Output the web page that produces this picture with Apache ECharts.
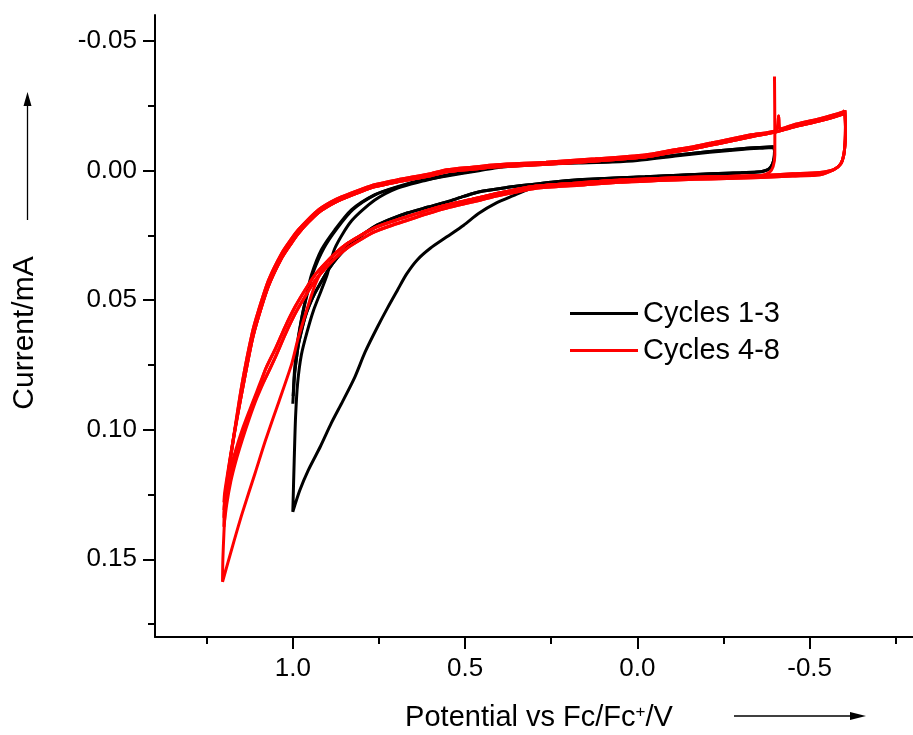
<!DOCTYPE html>
<html>
<head>
<meta charset="utf-8">
<script src="https://cdn.jsdelivr.net/npm/echarts@6/dist/echarts.min.js"></script>
<style>
html,body{margin:0;padding:0;background:#fff;}
#chart{width:913px;height:735px;}
</style>
</head>
<body>
<div id="chart"></div>
<script>
// ---------- axis ticks ----------
const xMajorTicks = [1.0, 0.5, 0.0, -0.5];
const xMinorTicks = [1.25, 0.75, 0.25, -0.25, -0.75];
const yMajorTicks = [-0.05, 0.00, 0.05, 0.10, 0.15];
const yMinorTicks = [-0.025, 0.025, 0.075, 0.125, 0.175];
const seriesNames = ['Cycles 1-3', 'Cycles 4-8'];

// ---------- black cycles 1-3 (potential V, current mA) ----------
const blackRightTurn = [[-0.396,-0.0092],[-0.398,-0.0075],[-0.397,-0.0050],[-0.392,-0.0025],[-0.382,-0.0006],[-0.365,0.0003]];
const blackLower = [[-0.347,0.0006],[-0.30,0.0009],[-0.214,0.0013],[-0.12,0.0018],[-0.022,0.0024],[0.08,0.0030],[0.170,0.0036],[0.25,0.0045],[0.314,0.0055],[0.38,0.0066],[0.458,0.0082],[0.504,0.0100],[0.553,0.0121],[0.61,0.0142],[0.668,0.0164],[0.72,0.0190],[0.763,0.0216],[0.80,0.0250],[0.840,0.0293],[0.87,0.0335],[0.897,0.0383],[0.92,0.0435],[0.936,0.0473],[0.952,0.0520],[0.964,0.0564],[0.975,0.0620],[0.984,0.0673],[0.991,0.0740]];
const black1Start = [[-0.30,0.0010],[-0.214,0.0014],[-0.12,0.0019],[-0.022,0.0025],[0.08,0.0031],[0.170,0.0038],[0.25,0.0050]];
const black1Forward = [[0.314,0.0072],[0.36,0.0097],[0.409,0.0125],[0.46,0.0165],[0.504,0.0211],[0.553,0.0256],[0.601,0.0300],[0.639,0.0345],[0.67,0.0400],[0.696,0.0461],[0.725,0.0530],[0.754,0.0603],[0.79,0.0700],[0.820,0.0797],[0.855,0.0890],[0.888,0.0974],[0.92,0.1065],[0.955,0.1156],[0.98,0.1235],[1.0,0.1317]];
const black1Reverse = [[0.996,0.1120],[0.992,0.0950],[0.986,0.0820],[0.975,0.0710],[0.958,0.0620],[0.94,0.0540],[0.917,0.0461],[0.90,0.0400],[0.878,0.0300],[0.83,0.0195],[0.763,0.0115],[0.696,0.0068],[0.62,0.0040]];
const black2Vertex = [[0.995,0.0789],[1.0,0.0900]];
const black2Reverse = [[0.996,0.0810],[0.988,0.0692],[0.975,0.0576],[0.960,0.0480],[0.946,0.0403],[0.917,0.0306],[0.878,0.0229],[0.830,0.0152],[0.763,0.0094],[0.696,0.0062],[0.62,0.0035]];
const black3Vertex = [[0.996,0.0795],[0.999,0.0870]];
const black3Reverse = [[0.995,0.0770],[0.986,0.0660],[0.972,0.0555],[0.956,0.0465],[0.940,0.0390],[0.910,0.0300],[0.872,0.0224],[0.825,0.0150],[0.760,0.0093],[0.696,0.0064],[0.62,0.0037]];
const blackUpper = [[0.553,0.0018],[0.46,-0.0002],[0.409,-0.0014],[0.34,-0.0022],[0.265,-0.0028],[0.17,-0.0032],[0.073,-0.0036],[0.0,-0.0042],[-0.117,-0.0060],[-0.21,-0.0073],[-0.31,-0.0085],[-0.37,-0.0090],[-0.396,-0.0092]];
const blackUpperB = [[0.553,0.0021],[0.46,0.0001],[0.409,-0.0011],[0.34,-0.0019],[0.265,-0.0025],[0.17,-0.0029],[0.073,-0.0033],[0.0,-0.0039],[-0.117,-0.0057],[-0.21,-0.0070],[-0.31,-0.0082],[-0.37,-0.0087],[-0.394,-0.0089]];

// ---------- red cycles 4-8 ----------
const redStart = [[-0.398,-0.0363],[-0.399,-0.0150],[-0.399,-0.0060],[-0.394,-0.0015],[-0.383,0.0008],[-0.358,0.0019]];
const redRightTurn = [[-0.602,-0.0232],[-0.604,-0.0170],[-0.603,-0.0110],[-0.599,-0.0060],[-0.590,-0.0025],[-0.570,-0.0003]];
const redLowerA = [[-0.530,0.0008],[-0.45,0.0013],[-0.358,0.0019],[-0.26,0.0023],[-0.166,0.0026],[-0.06,0.0031],[0.05,0.0037],[0.17,0.0048],[0.294,0.0060],[0.361,0.0076],[0.409,0.0089],[0.48,0.0111],[0.553,0.0133],[0.61,0.0154],[0.668,0.0178],[0.72,0.0200],[0.763,0.0221],[0.80,0.0248],[0.840,0.0280],[0.875,0.0318],[0.907,0.0360],[0.935,0.0402],[0.964,0.0460],[0.993,0.0525],[1.022,0.0602],[1.05,0.0686],[1.079,0.0766]];
const redLowerB = [[-0.530,0.0016],[-0.45,0.0021],[-0.358,0.0027],[-0.26,0.0031],[-0.166,0.0034],[-0.06,0.0039],[0.05,0.0045],[0.17,0.0057],[0.294,0.0069],[0.361,0.0086],[0.409,0.0099],[0.48,0.0122],[0.553,0.0145],[0.61,0.0167],[0.668,0.0192],[0.72,0.0215],[0.763,0.0237],[0.80,0.0264],[0.840,0.0297],[0.875,0.0336],[0.907,0.0380],[0.935,0.0424],[0.964,0.0485],[0.993,0.0552],[1.022,0.0632],[1.05,0.0718],[1.079,0.0800]];
const red4Forward = [[0.907,0.0365],[0.935,0.0440],[0.96,0.0540],[0.985,0.0650],[1.003,0.0745],[1.04,0.0890],[1.079,0.1040],[1.11,0.1170],[1.147,0.1323],[1.175,0.1450],[1.204,0.1587]];
const red4Reverse = [[1.203,0.1500],[1.200,0.1400],[1.196,0.1300],[1.190,0.1210],[1.172,0.1030]];
const red5Vertex = [[1.105,0.0880],[1.127,0.0960],[1.148,0.1045],[1.166,0.1125],[1.180,0.1200],[1.192,0.1290],[1.200,0.1375],[1.199,0.1320],[1.193,0.1230],[1.182,0.1120],[1.170,0.1020]];
const red6Vertex = [[1.105,0.0870],[1.127,0.0950],[1.148,0.1030],[1.166,0.1110],[1.180,0.1185],[1.192,0.1265],[1.200,0.1340],[1.199,0.1300],[1.192,0.1215],[1.181,0.1110],[1.169,0.1010]];
const red7Vertex = [[1.105,0.0862],[1.127,0.0940],[1.148,0.1018],[1.166,0.1095],[1.180,0.1165],[1.192,0.1240],[1.200,0.1310],[1.198,0.1270],[1.191,0.1195],[1.180,0.1095],[1.168,0.1000]];
const red8Vertex = [[1.105,0.0855],[1.127,0.0930],[1.148,0.1005],[1.166,0.1080],[1.180,0.1145],[1.192,0.1215],[1.200,0.1280],[1.198,0.1245],[1.190,0.1175],[1.179,0.1085],[1.167,0.0990]];
const redUpperA = [[1.147,0.0821],[1.118,0.0628],[1.099,0.0538],[1.070,0.0422],[1.032,0.0319],[1.003,0.0262],[0.984,0.0229],[0.955,0.0188],[0.926,0.0152],[0.89,0.0122],[0.859,0.0102],[0.80,0.0072],[0.763,0.0055],[0.696,0.0036],[0.60,0.0012],[0.553,-0.0003],[0.48,-0.0013],[0.409,-0.0022],[0.265,-0.0032],[0.122,-0.0045],[-0.022,-0.0060],[-0.10,-0.0078],[-0.166,-0.0093],[-0.214,-0.0106],[-0.261,-0.0119],[-0.33,-0.0138],[-0.404,-0.0157],[-0.410,-0.0210],[-0.414,-0.0160],[-0.453,-0.0176],[-0.53,-0.0200],[-0.597,-0.0226],[-0.602,-0.0232]];
const redUpperB = [[1.147,0.0850],[1.118,0.0655],[1.099,0.0562],[1.070,0.0444],[1.032,0.0337],[1.003,0.0278],[0.984,0.0243],[0.955,0.0200],[0.926,0.0163],[0.89,0.0132],[0.859,0.0111],[0.80,0.0080],[0.763,0.0063],[0.696,0.0044],[0.60,0.0020],[0.553,0.0005],[0.48,-0.0005],[0.409,-0.0014],[0.265,-0.0024],[0.122,-0.0037],[-0.022,-0.0052],[-0.10,-0.0070],[-0.166,-0.0085],[-0.214,-0.0098],[-0.261,-0.0111],[-0.33,-0.0130],[-0.404,-0.0149],[-0.453,-0.0168],[-0.53,-0.0192],[-0.597,-0.0218],[-0.602,-0.0225]];

// ---------- assemble cycles ----------
const join = (...parts) => [].concat(...parts);
const blackCycles = [
  join(black1Start, black1Forward, black1Reverse, blackUpper),
  join(blackRightTurn, blackLower, black2Vertex, black2Reverse, blackUpper),
  join(blackRightTurn, blackLower, black3Vertex, black3Reverse, blackUpperB)
];
const redLowerMid = redLowerA.filter(p => p[0] > -0.3 && p[0] < 0.9);
const redCycles = [
  join(redStart, redLowerMid, red4Forward, red4Reverse, redUpperA),
  join(redRightTurn, redLowerB, red5Vertex, redUpperB),
  join(redRightTurn, redLowerA, red6Vertex, redUpperA),
  join(redRightTurn, redLowerB, red7Vertex, redUpperB),
  join(redRightTurn, redLowerA, red8Vertex, redUpperB)
];

const FONT = "'Liberation Sans', Arial, Helvetica, sans-serif";
const series = [];
blackCycles.forEach(d => series.push({
  name: seriesNames[0], type: 'line', data: d, showSymbol: false, symbol: 'none',
  smooth: 0.25, smoothMonotone: 'none',
  lineStyle: {color: '#000000', width: 3}, itemStyle: {color: '#000000'}, z: 2
}));
redCycles.forEach(d => series.push({
  name: seriesNames[1], type: 'line', data: d, showSymbol: false, symbol: 'none',
  smooth: 0.25, smoothMonotone: 'none',
  lineStyle: {color: '#ff0000', width: 3}, itemStyle: {color: '#ff0000'}, z: 3
}));

const axisCommonX = {type: 'value', min: -0.8, max: 1.4, inverse: true, position: 'bottom', gridIndex: 0, splitLine: {show: false}};
const axisCommonY = {type: 'value', min: -0.06, max: 0.18, inverse: true, position: 'left', gridIndex: 0, splitLine: {show: false}};

const chart = echarts.init(document.getElementById('chart'), null, {renderer: 'canvas'});
chart.setOption({
  animation: false,
  backgroundColor: '#ffffff',
  grid: {left: 155, top: 15, width: 766, height: 622, containLabel: false},
  xAxis: [
    Object.assign({}, axisCommonX, {
      axisLine: {show: true, onZero: false, lineStyle: {color: '#000', width: 2}},
      axisTick: {show: true, inside: false, length: 12, lineStyle: {color: '#000', width: 2}, customValues: xMajorTicks},
      axisLabel: {show: true, margin: 19, color: '#000', fontSize: 26, fontFamily: FONT, customValues: xMajorTicks,
        formatter: v => v.toFixed(1)}
    }),
    Object.assign({}, axisCommonX, {
      axisLine: {show: false, onZero: false},
      axisTick: {show: true, inside: false, length: 7, lineStyle: {color: '#000', width: 2}, customValues: xMinorTicks},
      axisLabel: {show: false}
    })
  ],
  yAxis: [
    Object.assign({}, axisCommonY, {
      axisLine: {show: true, onZero: false, lineStyle: {color: '#000', width: 2}},
      axisTick: {show: true, inside: false, length: 12, lineStyle: {color: '#000', width: 2}, customValues: yMajorTicks},
      axisLabel: {show: true, margin: 18, color: '#000', fontSize: 26, fontFamily: FONT, customValues: yMajorTicks,
        formatter: v => v.toFixed(2)}
    }),
    Object.assign({}, axisCommonY, {
      axisLine: {show: false, onZero: false},
      axisTick: {show: true, inside: false, length: 7, lineStyle: {color: '#000', width: 2}, customValues: yMinorTicks},
      axisLabel: {show: false}
    })
  ],
  legend: {
    data: seriesNames, orient: 'vertical', left: 565, top: 293,
    icon: 'rect', itemWidth: 68, itemHeight: 3, itemGap: 6,
    selectedMode: false,
    textStyle: {color: '#000', fontSize: 29, fontFamily: FONT, lineHeight: 31}
  },
  series: series,
  graphic: [
    {type: 'line', shape: {x1: 27.5, y1: 220, x2: 27.5, y2: 104}, style: {stroke: '#000', lineWidth: 1.3}},
    {type: 'polygon', shape: {points: [[27.5, 92], [23.5, 106], [31.5, 106]]}, style: {fill: '#000'}},
    {type: 'line', shape: {x1: 734, y1: 716, x2: 852, y2: 716}, style: {stroke: '#000', lineWidth: 1.3}},
    {type: 'polygon', shape: {points: [[866, 716], [850, 712], [850, 720]]}, style: {fill: '#000'}},
    {type: 'text', x: 25, y: 333, rotation: Math.PI / 2,
      style: {text: 'Current/mA', fill: '#000', fontSize: 30, fontFamily: FONT,
        align: 'center', verticalAlign: 'middle', textAlign: 'center', textVerticalAlign: 'middle'}},
    {type: 'text', x: 539, y: 718,
      style: {text: '{a|Potential vs Fc/Fc}{s|+}{a|/V}', fill: '#000', fontSize: 29, fontFamily: FONT,
        align: 'center', verticalAlign: 'middle', textAlign: 'center', textVerticalAlign: 'middle',
        rich: {a: {fontSize: 29, fontFamily: FONT, fill: '#000', color: '#000'},
               s: {fontSize: 17, fontFamily: FONT, fill: '#000', color: '#000', verticalAlign: 'top'}}}}
  ]
});
</script>
</body>
</html>
